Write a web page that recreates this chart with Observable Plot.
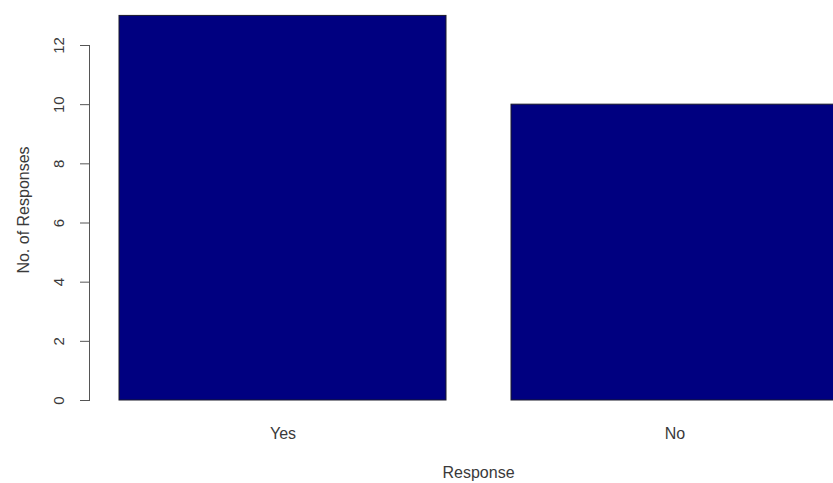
<!DOCTYPE html>
<html>
<head>
<meta charset="utf-8">
<script src="https://cdn.jsdelivr.net/npm/d3@7"></script>
<script src="https://cdn.jsdelivr.net/npm/@observablehq/plot@0.6"></script>
<style>
  html, body { margin: 0; padding: 0; background: #fff; }
  #chart svg { display: block; }
</style>
</head>
<body>
<div id="chart"></div>
<script>
const categories = ["Yes", "No"];
const counts = [13, 10];
const yTicks = [0, 2, 4, 6, 8, 10, 12];
const xTitle = "Response";
const yTitle = "No. of Responses";

const data = categories.map((c, i) => ({response: c, count: counts[i]}));
const font = "Liberation Sans, Arial, Helvetica, sans-serif";
const textColor = "#3a3a3a";

const chart = Plot.plot({
  width: 833,
  height: 483,
  marginLeft: 89,
  marginRight: 0,
  marginTop: 45,
  marginBottom: 83,
  style: {fontFamily: font, background: "#fff"},
  x: {type: "band", domain: categories, range: [119, 838], paddingInner: 0.166, paddingOuter: 0, align: 0, axis: null},
  y: {domain: [0, 12], axis: null},
  marks: [
    Plot.barY(data, {x: "response", y: "count", fill: "#000080", stroke: "#1a1a2a", strokeWidth: 1}),
    Plot.frame({anchor: "left", stroke: "#555", strokeWidth: 1}),
    Plot.axisY({ticks: yTicks, tickSize: 9, tickFormat: () => "", label: null, stroke: "#555", strokeWidth: 1}),
    Plot.text(yTicks, {y: d => d, text: d => String(d), frameAnchor: "left", dx: -30, rotate: -90, textAnchor: "middle", fontSize: 15, fill: textColor}),
    Plot.text(categories, {x: d => d, text: d => d, frameAnchor: "bottom", dy: 38, fontSize: 16, fill: textColor}),
    Plot.text([xTitle], {text: d => d, frameAnchor: "bottom", dx: 17, dy: 77, fontSize: 16, fill: textColor}),
    Plot.text([yTitle], {text: d => d, frameAnchor: "left", dx: -66, dy: -13, rotate: -90, textAnchor: "middle", fontSize: 16, fill: textColor})
  ]
});
document.getElementById("chart").append(chart);
</script>
</body>
</html>
